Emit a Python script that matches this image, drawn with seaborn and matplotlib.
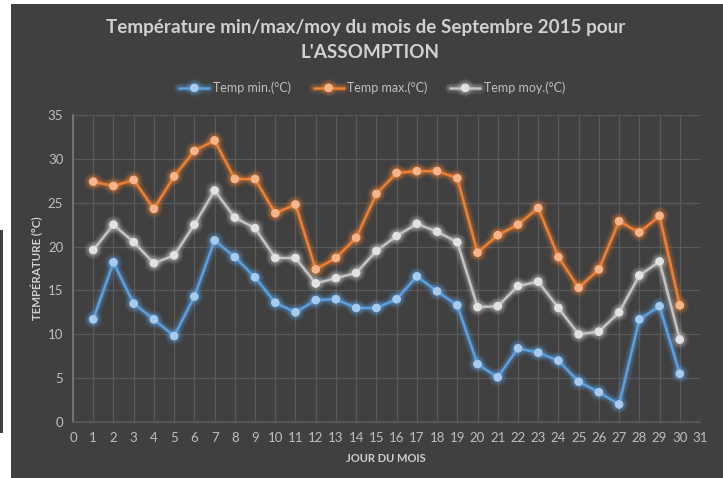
import numpy as np
import pandas as pd
import seaborn as sns
import matplotlib.pyplot as plt
import matplotlib.patheffects as pe
from matplotlib.patches import Rectangle

# jours et températures
jours = list(range(1, 31))
temp_min = [11.7, 18.2, 13.5, 11.7, 9.8, 14.3, 20.7, 18.8, 16.5, 13.6,
            12.5, 13.9, 14.0, 13.0, 13.0, 14.0, 16.6, 14.9, 13.3, 6.6,
            5.1, 8.4, 7.9, 7.0, 4.6, 3.4, 2.0, 11.7, 13.2, 5.5]
temp_max = [27.4, 26.9, 27.6, 24.3, 28.0, 30.9, 32.1, 27.7, 27.7, 23.8,
            24.8, 17.4, 18.7, 21.0, 26.0, 28.4, 28.6, 28.6, 27.8, 19.3,
            21.3, 22.5, 24.4, 18.8, 15.3, 17.4, 22.9, 21.6, 23.5, 13.3]
temp_moy = [19.6, 22.5, 20.5, 18.1, 19.0, 22.5, 26.4, 23.3, 22.1, 18.7,
            18.7, 15.8, 16.4, 17.0, 19.5, 21.2, 22.6, 21.7, 20.5, 13.1,
            13.2, 15.5, 16.0, 13.0, 10.0, 10.3, 12.5, 16.7, 18.3, 9.4]
series = ["Temp min.(°C)", "Temp max.(°C)", "Temp moy.(°C)"]

bg = "#404040"
txt = "#d0d0d0"
line_cols = ["#5ba0e0", "#ee8034", "#c4c4c4"]
mark_cols = ["#a6cbee", "#f6b48a", "#e2e2e2"]

sns.set_theme(style="dark")
plt.rcParams["font.family"] = ["Lato", "DejaVu Sans"]

fig = plt.figure(figsize=(7.23, 4.78), dpi=100, facecolor="white")
fig.patches.append(Rectangle((11 / 723, 0), 1, 1 - 4 / 478, transform=fig.transFigure,
                             facecolor=bg, edgecolor="none", zorder=-10))
fig.patches.append(Rectangle((0, 1 - 433 / 478), 3 / 723, 203 / 478, transform=fig.transFigure,
                             facecolor=bg, edgecolor="none", zorder=-10))

ax = fig.add_axes([73 / 723, 1 - 422 / 478, 627 / 723, 307 / 478])
ax.set_facecolor(bg)

for name, vals, lc, mc in zip(series, [temp_min, temp_max, temp_moy], line_cols, mark_cols):
    sns.lineplot(x=jours, y=vals, ax=ax, color=lc, linewidth=1.8, marker="o",
                 markersize=5.5, markerfacecolor=mc, markeredgecolor=mc, label=name)
    ln = ax.lines[-1]
    # halo doux autour des courbes
    ln.set_path_effects([pe.Stroke(linewidth=8, foreground=lc, alpha=0.08),
                         pe.Stroke(linewidth=6, foreground=lc, alpha=0.12),
                         pe.Stroke(linewidth=4, foreground=lc, alpha=0.2),
                         pe.Normal()])

ax.set_xlim(0, 31)
ax.set_ylim(0, 35)
ax.set_xticks(range(0, 32))
ax.set_yticks(range(0, 36, 5))
ax.grid(True, color="#5a5a5a", linewidth=0.9)
ax.tick_params(length=0, colors="#bfbfbf", labelsize=9.5, pad=7)
for s in ["top", "right"]:
    ax.spines[s].set_visible(False)
ax.spines["left"].set_color("#7a7a7a")
ax.spines["bottom"].set_color("#5a5a5a")

ax.set_xlabel("")
ax.set_ylabel("")
fig.text(386 / 723, 1 - 459 / 478, "JOUR DU MOIS", ha="center", va="center",
         color=txt, fontsize=8, fontweight="bold")
fig.text(37 / 723, 1 - 268 / 478, "TEMPÉRATURE (°C)", ha="center", va="center",
         rotation=90, color=txt, fontsize=8.3, fontweight="bold")

fig.text(0.506, 1 - 28 / 478, "Température min/max/moy du mois de Septembre 2015 pour",
         ha="center", va="center", color=txt, fontsize=13.6, fontweight="bold")
fig.text(0.512, 1 - 52 / 478, "L'ASSOMPTION",
         ha="center", va="center", color=txt, fontsize=13.6, fontweight="bold")

ax.legend_.remove()
h, l = ax.get_legend_handles_labels()
fig.legend(h, l, loc="center", bbox_to_anchor=(0.515, 1 - 88 / 478), ncol=3,
           frameon=False, fontsize=9, labelcolor="#bfbfbf", handlelength=2.4,
           handletextpad=0.3, columnspacing=1.8)

fig.savefig("out.png", dpi=100, facecolor="white")
